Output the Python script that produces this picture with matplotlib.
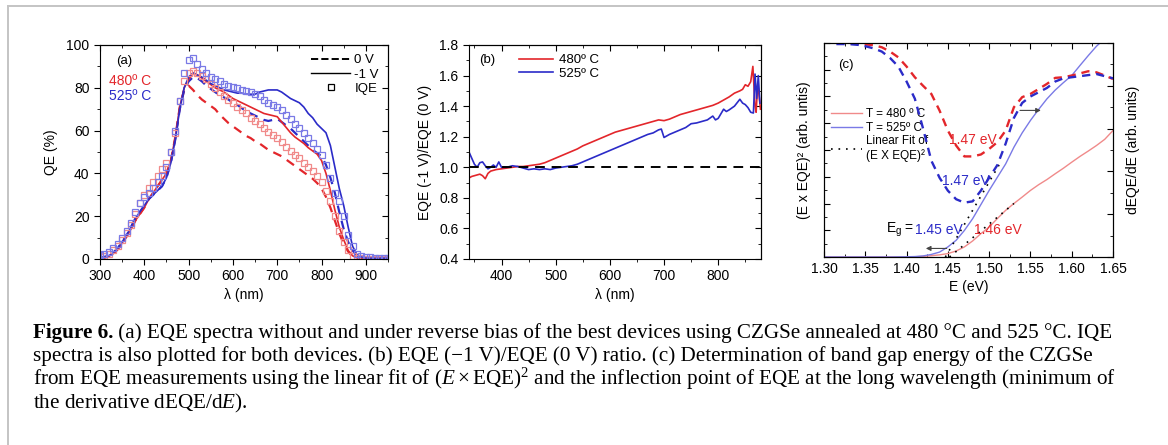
import numpy as np
import matplotlib.pyplot as plt
from matplotlib.lines import Line2D
from matplotlib.ticker import MultipleLocator, NullFormatter

plt.rcParams['font.family'] = ['Liberation Sans', 'DejaVu Sans']
plt.rcParams['mathtext.fontset'] = 'custom'
plt.rcParams['mathtext.rm'] = 'Liberation Serif'
plt.rcParams['mathtext.it'] = 'Liberation Serif:italic'
plt.rcParams['mathtext.sf'] = 'Liberation Sans'

RED = '#e3262b'
BLUE = '#2b2bc8'
RED_L = '#f08a8a'
BLUE_L = '#7a7ae6'

# ---- panel (a): QE spectra, 10 nm grid ----
wl = np.arange(300, 960, 10)
iqe_525 = [2, 2.5, 3.5, 5, 7, 10, 13, 17, 22, 26, 29, 31, 33, 36, 39, 43, 50, 60, 74, 87,
           93, 94, 91, 89, 87, 85, 84, 83, 82, 81, 80.5, 80, 79, 78.5, 78, 77, 76, 74.5, 73, 72,
           71, 69.5, 67.5, 65.5, 63, 61, 59, 56.5, 54, 51.5, 48.5, 44, 38, 31, 27, 20, 11, 6, 2.5, 1.2,
           1, 0.8, 0.7, 0.7, 0.6, 0.6]
iqe_480 = [1, 1.5, 2.5, 4, 6, 9, 12, 16, 21, 26, 30, 33, 36, 39, 42, 45, 50, 59, 74, 83,
           87, 88, 87, 85.5, 84, 82, 80, 78, 76, 74.5, 73, 71, 69.5, 68, 66, 64.5, 63, 61, 59.5, 58,
           56.5, 54.5, 52.5, 50.5, 48.5, 47, 45, 43, 41, 39, 36, 32, 27, 20, 13, 8, 4, 1.5, 0.5, 0.3,
           0.2, 0.2, 0.2, 0.2, 0.2, 0.2]
m1v_525 = [0.5, 1, 1.5, 3, 5, 8, 11, 15, 19, 22, 25, 28, 30, 32, 34, 38, 45, 56, 70, 80,
           85, 87, 86, 85, 83.5, 82, 81, 80, 79, 78.5, 78, 77.5, 77.5, 77, 77, 77, 78, 78.5, 79, 79,
           79, 78, 76.5, 75, 74, 73, 71, 68, 66, 63, 61, 59, 53, 43, 33, 25, 15, 6, 2, 1,
           0.5, 0.3, 0.3, 0.3, 0.3, 0.3]
v0_525 = [0.5, 1, 1.5, 3, 5, 8, 11, 15, 19, 22, 25, 28, 30, 32, 34, 38, 45, 56, 70, 79,
          83, 85, 84.5, 83, 81, 79.5, 78, 76.5, 75.5, 74.5, 73, 72, 70.5, 69, 68, 67, 66, 65, 64.5, 65,
          65.5, 64, 62.5, 61, 59, 57, 55, 53, 51, 49.5, 48, 44, 38, 31, 22, 14, 8, 4, 1.5, 0.5,
          0.3, 0.3, 0.3, 0.3, 0.3, 0.3]
m1v_480 = [0.3, 0.6, 1.2, 2.5, 4.5, 7.5, 10.5, 14, 18, 21, 24, 28, 31, 34, 37, 40, 46, 57, 71, 80,
           84, 86.5, 86, 84.5, 83, 81.5, 80, 79, 78, 76.5, 75, 74, 73, 72, 71, 70, 69, 68, 67.5, 67,
           66.5, 64, 61.5, 59, 57, 55.5, 54, 52, 50.5, 49, 46, 40, 32, 23, 15, 9, 4, 1.5, 0.5, 0.2,
           0.2, 0.2, 0.2, 0.2, 0.2, 0.2]
v0_480 = [0.3, 0.6, 1.2, 2.5, 4.5, 7.5, 10.5, 14, 18, 21, 24, 28, 31, 34, 37, 40, 46, 57, 71, 79,
          81, 79, 76.5, 74.5, 73, 71.5, 70, 67.5, 65.5, 63.5, 62, 60.5, 59, 57.5, 56.5, 55, 54, 52.5, 51, 50,
          49, 48, 46.5, 45, 43.5, 42, 40.5, 39, 37.5, 35.5, 33, 29, 24, 18, 12, 7, 3.5, 1.2, 0.4, 0.2,
          0.2, 0.2, 0.2, 0.2, 0.2, 0.2]

# ---- panel (b): EQE(-1V)/EQE(0V) ----
wl_b480 = [340, 345, 350, 355, 360, 365, 370, 375, 380, 390, 400, 410, 420, 430, 440, 450, 460, 470,
           480, 490, 500, 510, 520, 530, 540, 550, 560, 570, 580, 590, 600, 610, 620, 630, 640, 650,
           660, 670, 680, 690, 700, 710, 720, 730, 740, 750, 760, 770, 780, 790, 800, 810, 820, 830,
           840, 845, 850, 855, 860, 864, 868, 870, 873, 876, 878]
ratio_480 = [0.93, 0.94, 0.945, 0.95, 0.955, 0.945, 0.925, 0.96, 0.975, 0.985, 0.99, 0.995, 1.0, 1.005,
             1.005, 1.01, 1.015, 1.02, 1.03, 1.045, 1.06, 1.075, 1.09, 1.105, 1.12, 1.14, 1.155, 1.17,
             1.185, 1.2, 1.215, 1.23, 1.24, 1.25, 1.26, 1.27, 1.28, 1.29, 1.3, 1.31, 1.305, 1.315, 1.33,
             1.345, 1.355, 1.365, 1.375, 1.385, 1.395, 1.405, 1.42, 1.44, 1.46, 1.485, 1.5, 1.51, 1.54,
             1.53, 1.56, 1.66, 1.4, 1.36, 1.55, 1.45, 1.38]
wl_b525 = [340, 345, 350, 355, 360, 365, 370, 375, 380, 385, 390, 395, 400, 410, 420, 430, 440, 450,
           460, 470, 480, 490, 500, 510, 520, 530, 540, 550, 560, 570, 580, 590, 600, 610, 620, 630,
           640, 650, 660, 670, 680, 690, 695, 700, 710, 720, 730, 740, 750, 760, 770, 780, 790, 795,
           800, 810, 815, 820, 830, 840, 845, 850, 855, 860, 865, 868, 871, 874, 877]
ratio_525 = [1.1, 1.06, 1.02, 1.0, 1.03, 1.035, 1.01, 0.99, 1.0, 1.015, 1.0, 1.035, 1.0, 1.0, 1.01,
             1.005, 0.995, 0.985, 0.99, 0.985, 0.99, 0.985, 0.995, 1.0, 1.005, 1.01, 1.02, 1.035, 1.05,
             1.065, 1.08, 1.095, 1.11, 1.125, 1.14, 1.155, 1.17, 1.185, 1.2, 1.215, 1.225, 1.245, 1.25,
             1.195, 1.215, 1.23, 1.245, 1.26, 1.285, 1.29, 1.3, 1.31, 1.335, 1.31, 1.32, 1.38, 1.365,
             1.375, 1.4, 1.445, 1.42, 1.41, 1.39, 1.36, 1.355, 1.61, 1.45, 1.6, 1.42]

# ---- panel (c): band gap ----
e_sq = [1.30, 1.32, 1.34, 1.36, 1.38, 1.40, 1.41, 1.42, 1.43, 1.44, 1.45, 1.46, 1.47, 1.48, 1.49,
        1.50, 1.51, 1.52, 1.53, 1.54, 1.55, 1.56, 1.57, 1.58, 1.59, 1.60, 1.61, 1.62, 1.63, 1.64, 1.65]
sq_480 = [0, 0, 0, 0, 0, 0, 0.001, 0.003, 0.006, 0.01, 0.016, 0.028, 0.047, 0.075, 0.109,
          0.14, 0.18, 0.218, 0.25, 0.28, 0.311, 0.338, 0.362, 0.389, 0.415, 0.443, 0.47, 0.495,
          0.521, 0.55, 0.591]
sq_525 = [0, 0, 0, 0, 0, 0.001, 0.002, 0.005, 0.012, 0.023, 0.047, 0.078, 0.124, 0.179, 0.245,
          0.311, 0.373, 0.435, 0.513, 0.58, 0.638, 0.69, 0.739, 0.78, 0.815, 0.848, 0.895, 0.941,
          0.985, 1.02, 1.06]
fit_e_480 = [1.452, 1.53]
fit_y_480 = [0.0, 0.25]
fit_e_525 = [1.447, 1.512]
fit_y_525 = [0.0, 0.43]
e_d = [1.315, 1.33, 1.345, 1.36, 1.37, 1.38, 1.39, 1.40, 1.41, 1.42, 1.43, 1.44, 1.45, 1.46, 1.47,
       1.48, 1.49, 1.50, 1.51, 1.52, 1.53, 1.54, 1.55, 1.56, 1.57, 1.58, 1.59, 1.60, 1.61, 1.62,
       1.63, 1.64, 1.65]
d_480 = [1.0, 1.0, 0.995, 0.99, 0.98, 0.96, 0.933, 0.89, 0.84, 0.80, 0.762, 0.684, 0.591, 0.521,
         0.47, 0.47, 0.479, 0.505, 0.537, 0.591, 0.70, 0.747, 0.762, 0.785, 0.809, 0.837, 0.84,
         0.848, 0.858, 0.868, 0.863, 0.848, 0.832]
d_525 = [0.995, 0.995, 0.99, 0.975, 0.96, 0.93, 0.89, 0.82, 0.74, 0.6, 0.45, 0.37, 0.31, 0.27,
         0.254, 0.26, 0.31, 0.37, 0.43, 0.53, 0.65, 0.72, 0.75, 0.77, 0.79, 0.82, 0.835, 0.84,
         0.845, 0.85, 0.855, 0.845, 0.835]

caption = [
    ' (a) EQE spectra without and under reverse bias of the best devices using CZGSe annealed at 480 °C and 525 °C. IQE',
    'spectra is also plotted for both devices. (b) EQE (\u22121 V)/EQE (0 V) ratio. (c) Determination of band gap energy of the CZGSe',
    'from EQE measurements using the linear fit of $(\\mathit{E}\\times\\mathrm{EQE})^2$ and the inflection point of EQE at the long wavelength (minimum of',
    'the derivative dEQE/d$\\mathit{E}$).',
]

fig = plt.figure(figsize=(11.68, 4.45), dpi=100)
W, H = 1168, 445


def box(x0, x1, y0, y1):
    return [x0 / W, 1 - y1 / H, (x1 - x0) / W, (y1 - y0) / H]


def mirror(ax, xmaj, xmin, ymaj, ymin):
    top = ax.secondary_xaxis('top')
    top.xaxis.set_major_locator(MultipleLocator(xmaj))
    top.xaxis.set_minor_locator(MultipleLocator(xmin))
    top.tick_params(which='both', direction='in', labeltop=False)
    top.tick_params(which='major', length=4)
    top.tick_params(which='minor', length=2)
    right = ax.secondary_yaxis('right')
    right.yaxis.set_major_locator(MultipleLocator(ymaj))
    right.yaxis.set_minor_locator(MultipleLocator(ymin))
    right.tick_params(which='both', direction='in', labelright=False)
    right.tick_params(which='major', length=4)
    right.tick_params(which='minor', length=2)


# ---------------- (a) ----------------
ax = fig.add_axes(box(100, 388, 45, 259))
ax.plot(wl, v0_480, '--', color=RED, lw=1.6, dashes=(4, 3))
ax.plot(wl, v0_525, '--', color=BLUE, lw=1.6, dashes=(4, 3))
ax.plot(wl, m1v_480, '-', color=RED, lw=1.2)
ax.plot(wl, m1v_525, '-', color=BLUE, lw=1.2)
ax.plot(wl, iqe_480, 's', mfc='none', mec=RED_L, ms=4.4, mew=0.9)
ax.plot(wl, iqe_525, 's', mfc='none', mec=BLUE_L, ms=4.4, mew=0.9)
ax.set_xlim(300, 950)
ax.set_ylim(0, 100)
ax.xaxis.set_major_locator(MultipleLocator(100))
ax.xaxis.set_minor_locator(MultipleLocator(50))
ax.yaxis.set_major_locator(MultipleLocator(20))
ax.yaxis.set_minor_locator(MultipleLocator(10))
ax.tick_params(which='both', direction='out', labelsize=10)
ax.tick_params(which='major', length=4)
ax.tick_params(which='minor', length=2)
mirror(ax, 100, 50, 20, 10)
ax.set_xlabel('λ (nm)', fontsize=10, labelpad=3)
ax.set_ylabel('QE (%)', fontsize=10, labelpad=6)
ax.text(337, 91, '(a)', fontsize=9.5)
ax.text(320, 81.5, '480º C', color=RED, fontsize=10)
ax.text(320, 74.5, '525º C', color=BLUE, fontsize=10)
hnd = [Line2D([], [], color='k', ls='--', lw=1.4),
       Line2D([], [], color='k', ls='-', lw=1.0),
       Line2D([], [], color='k', ls='none', marker='s', mfc='none', ms=4.5, mew=0.9)]
ax.legend(hnd, ['0 V', '-1 V', 'IQE'], loc='upper right', frameon=False, fontsize=9.5,
          handlelength=3.0, handletextpad=0.3, labelspacing=0.15, borderaxespad=0.3)

# ---------------- (b) ----------------
bx = fig.add_axes(box(469, 761, 45, 259))
bx.plot(wl_b480, ratio_480, color=RED, lw=1.2, label='480º C')
bx.plot(wl_b525, ratio_525, color=BLUE, lw=1.2, label='525º C')
bx.axhline(1.0, color='k', ls='--', lw=1.4, dashes=(5, 3.5))
bx.set_xlim(340, 879)
bx.set_ylim(0.4, 1.8)
bx.xaxis.set_major_locator(MultipleLocator(100))
bx.xaxis.set_minor_locator(MultipleLocator(50))
bx.yaxis.set_major_locator(MultipleLocator(0.2))
bx.yaxis.set_minor_locator(MultipleLocator(0.1))
bx.yaxis.set_major_formatter(plt.FormatStrFormatter('%.1f'))
bx.tick_params(which='both', direction='out', labelsize=10)
bx.tick_params(which='major', length=4)
bx.tick_params(which='minor', length=2)
mirror(bx, 100, 50, 0.2, 0.1)
bx.set_xlabel('λ (nm)', fontsize=10, labelpad=3)
bx.set_ylabel('EQE (-1 V)/EQE (0 V)', fontsize=10, labelpad=5)
bx.text(358, 1.68, '(b)', fontsize=9.5)
bx.legend(loc='upper left', bbox_to_anchor=(0.14, 1.0), frameon=False, fontsize=9.5,
          handlelength=2.6, handletextpad=0.4, labelspacing=0.1, borderaxespad=0.3)

# ---------------- (c) ----------------
cx = fig.add_axes(box(824, 1113, 43, 257))
cx.plot(e_sq, sq_480, color=RED_L, lw=1.0, label='T = 480 º C')
cx.plot(e_sq, sq_525, color=BLUE_L, lw=1.0, label='T = 525º C')
cx.plot(fit_e_480, fit_y_480, color='k', ls=':', lw=1.2, dashes=(1, 3.5))
cx.plot(fit_e_525, fit_y_525, color='k', ls=':', lw=1.2, dashes=(1, 3.5),
        label='Linear Fit of\n(E X EQE)²')
cx.set_xlim(1.30, 1.65)
cx.set_ylim(0, 1.0)
cx.xaxis.set_major_locator(MultipleLocator(0.05))
cx.xaxis.set_minor_locator(MultipleLocator(0.025))
cx.xaxis.set_major_formatter(plt.FormatStrFormatter('%.2f'))
cx.yaxis.set_major_locator(MultipleLocator(0.125))
cx.yaxis.set_minor_locator(MultipleLocator(0.0625))
cx.yaxis.set_major_formatter(NullFormatter())
cx.tick_params(which='both', direction='in', labelsize=10, top=True)
cx.tick_params(which='major', length=4)
cx.tick_params(which='minor', length=2)
cx.set_xlabel('E (eV)', fontsize=10, labelpad=3)
cx.set_ylabel('(E x EQE)² (arb. untis)', fontsize=10, labelpad=6)
cx.legend(loc='upper left', bbox_to_anchor=(0.0, 0.73), frameon=False, fontsize=8.5,
          handlelength=2.6, handletextpad=0.4, labelspacing=0.15, borderaxespad=0.2)

tx = cx.twinx()
tx.plot(e_d, d_480, color=RED, ls='--', lw=1.7, dashes=(3.5, 2.5))
tx.plot(e_d, d_525, color=BLUE, ls='--', lw=1.7, dashes=(3.5, 2.5))
tx.set_ylim(0, 1.0)
tx.yaxis.set_major_locator(MultipleLocator(0.2))
tx.yaxis.set_minor_locator(MultipleLocator(0.1))
tx.yaxis.set_major_formatter(NullFormatter())
tx.tick_params(which='both', direction='in')
tx.tick_params(which='major', length=4)
tx.tick_params(which='minor', length=2)
tx.set_ylabel('dEQE/dE (arb. units)', fontsize=10, labelpad=6)

cx.text(1.317, 0.885, '(c)', fontsize=9.5)
cx.text(1.48, 0.545, '1.47 eV', color=RED, fontsize=10, ha='center', va='center')
cx.text(1.472, 0.355, '1.47 eV', color=BLUE, fontsize=10, ha='center', va='center')
cx.text(1.51, 0.125, '1.46 eV', color=RED, fontsize=10, ha='center', va='center')
cx.text(1.41, 0.125, 'E$_\\mathsf{g}$ = ', color='k', fontsize=10, ha='right', va='center')
cx.text(1.41, 0.125, '1.45 eV', color=BLUE, fontsize=10, ha='left', va='center')
cx.annotate('', xy=(1.42, 0.04), xytext=(1.452, 0.04),
            arrowprops=dict(arrowstyle='-|>', color='#444444', lw=0.8, mutation_scale=7))
cx.annotate('', xy=(1.566, 0.685), xytext=(1.534, 0.685),
            arrowprops=dict(arrowstyle='-|>', color='#444444', lw=0.8, mutation_scale=7))

# ---------------- frame and caption ----------------
fig.add_artist(Line2D([8 / W, 8 / W], [0, 1 - 6 / H], color='#c4c4c4', lw=1.4))
fig.add_artist(Line2D([8 / W, 1], [1 - 6 / H, 1 - 6 / H], color='#c4c4c4', lw=1.4))

cap = dict(family='Liberation Serif', fontsize=15.2, va='baseline')
base = [338, 361, 385, 408]
t0 = fig.text(33 / W, 1 - base[0] / H, 'Figure 6.', fontweight='bold', **cap)
fig.add_artist(plt.Annotation(caption[0], xy=(1, 0), xycoords=t0, va='bottom', ha='left',
                              family='Liberation Serif', fontsize=15.2))
for s, b in zip(caption[1:], base[1:]):
    fig.text(33 / W, 1 - b / H, s, **cap)

fig.savefig('out.png', dpi=100)
